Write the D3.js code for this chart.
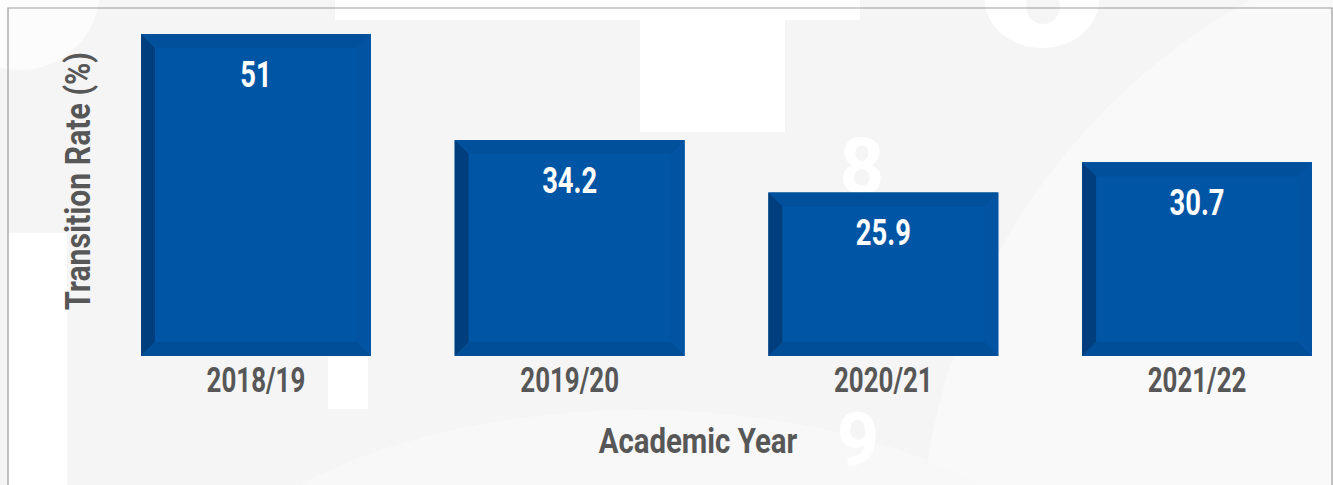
<!DOCTYPE html>
<html>
<head>
<meta charset="utf-8">
<script src="https://cdn.jsdelivr.net/npm/d3@7"></script>
<style>
  html, body { margin: 0; padding: 0; background: #f5f5f5; }
  svg { display: block; }
  .cond { font-family: Roboto, sans-serif; font-weight: 700; }
</style>
</head>
<body>
<div class="chart"></div>
<script>
// data
var years = ['2018/19', '2019/20', '2020/21', '2021/22'];
var rates = [51, 34.2, 25.9, 30.7];
var yTitle = 'Transition Rate (%)';
var xTitle = 'Academic Year';

var W = 1333, H = 485,
  bevel = 14,
  squeeze = 0.74,      // fake a condensed face out of Roboto Bold (digits)
  squeezeTitle = 0.84, // letters are relatively wider in the original
  textGrey = '#575757';

var data = years.map((y, i) => ({ year: y, rate: rates[i] }));

var svg = d3.select('.chart')
  .append('svg')
    .attr('width', W)
    .attr('height', H);

// ---- decorative background ----
var bg = svg.append('g').attr('class', 'bg');
bg.append('rect').attr('width', W).attr('height', H).attr('fill', '#f5f5f5');
bg.append('circle').attr('cx', 1560).attr('cy', 560).attr('r', 640).attr('fill', '#f9f9f9');
bg.append('ellipse').attr('cx', 640).attr('cy', 640).attr('rx', 460).attr('ry', 230).attr('fill', '#f8f8f8');
bg.append('rect').attr('x', 8).attr('y', 233).attr('width', 59).attr('height', H).attr('fill', '#fff');
bg.append('rect').attr('x', 335).attr('y', 0).attr('width', 525).attr('height', 20).attr('fill', '#fff');
bg.append('rect').attr('x', 640).attr('y', 20).attr('width', 145).attr('height', 112).attr('fill', '#fff');
bg.append('rect').attr('x', 328).attr('y', 357).attr('width', 40).attr('height', 52).attr('fill', '#fff');
bg.append('circle').attr('cx', 20).attr('cy', -10).attr('r', 80).attr('fill', '#fff').attr('opacity', 0.7);
// bottom of a huge ghost digit, top right
bg.append('ellipse').attr('cx', 1042).attr('cy', 0).attr('rx', 57).attr('ry', 48).attr('fill', '#fff');
bg.append('ellipse').attr('cx', 1043).attr('cy', 6).attr('rx', 17).attr('ry', 18).attr('fill', '#f5f5f5');
[[862, 193, 78, '8'], [858, 465, 74, '9']].forEach(d => {
  bg.append('text')
    .attr('class', 'cond')
    .attr('x', d[0]).attr('y', d[1])
    .attr('text-anchor', 'middle')
    .style('font-size', d[2] + 'px')
    .attr('fill', '#fff')
    .text(d[3]);
});

// thin frame
svg.append('path')
  .attr('d', `M8,${H} V8 H1332 V${H}`)
  .attr('fill', 'none')
  .attr('stroke', '#9c9c9c')
  .attr('stroke-width', 1.2);

// ---- scales ----
var x = d3.scaleBand()
  .domain(years)
  .range([141, 1312])
  .paddingInner(0.267)
  .paddingOuter(0);

var y = d3.scaleLinear()
  .domain([0, 51])
  .range([356, 34]);

// ---- bevelled bars ----
var bars = svg.selectAll('.bar')
  .data(data)
  .enter()
  .append('g')
    .attr('class', 'bar')
    .attr('transform', d => `translate(${x(d.year)}, ${y(d.rate)})`);

function face(w, h, side) {
  var b = bevel;
  if (side === 'left')   return `M0,0 L${b},${b} L${b},${h - b} L0,${h} Z`;
  if (side === 'top')    return `M0,0 L${w},0 L${w - b},${b} L${b},${b} Z`;
  if (side === 'right')  return `M${w},0 L${w},${h} L${w - b},${h - b} L${w - b},${b} Z`;
  return `M0,${h} L${b},${h - b} L${w - b},${h - b} L${w},${h} Z`;
}

bars.append('rect')
  .attr('width', x.bandwidth())
  .attr('height', d => y(0) - y(d.rate))
  .attr('fill', '#0055a5');

[['top', '#01509c'], ['bottom', '#014e98'], ['right', '#0253a1'], ['left', '#003e7d']].forEach(s => {
  bars.append('path')
    .attr('d', d => face(x.bandwidth(), y(0) - y(d.rate), s[0]))
    .attr('fill', s[1]);
});

// value labels
bars.append('text')
  .attr('class', 'cond')
  .attr('transform', `translate(${x.bandwidth() / 2}, 53) scale(${squeeze},1)`)
  .attr('text-anchor', 'middle')
  .style('font-size', '37px')
  .attr('fill', '#fff')
  .text(d => d.rate);

// ---- x axis (labels only) ----
var gX = svg.append('g')
  .attr('transform', `translate(0, ${y(0)})`)
  .call(d3.axisBottom(x).tickSize(0).tickPadding(0));

gX.select('.domain').remove();
gX.selectAll('text')
  .attr('class', 'cond')
  .attr('y', 36)
  .attr('dy', 0)
  .attr('transform', `scale(${squeeze},1)`)
  .style('font-size', '35px')
  .attr('fill', textGrey);

// axis titles
svg.append('text')
  .attr('class', 'cond')
  .attr('transform', `translate(698, 453) scale(${squeezeTitle},1)`)
  .attr('text-anchor', 'middle')
  .style('font-size', '35px')
  .attr('fill', textGrey)
  .text(xTitle);

svg.append('text')
  .attr('class', 'cond')
  .attr('transform', `translate(90, 181) rotate(-90) scale(${squeezeTitle},1)`)
  .attr('text-anchor', 'middle')
  .style('font-size', '36px')
  .attr('fill', textGrey)
  .text(yTitle);
</script>
</body>
</html>
